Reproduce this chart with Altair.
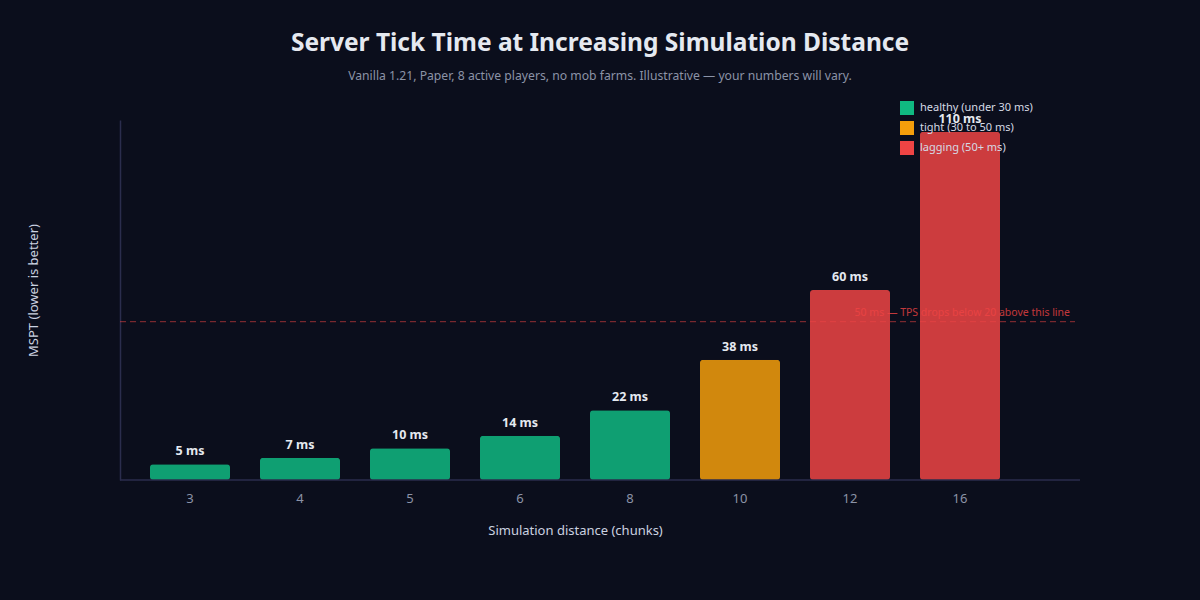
import altair as alt
import pandas as pd

categories = ["3", "4", "5", "6", "8", "10", "12", "16"]
mspt = [5, 7, 10, 14, 22, 38, 60, 110]
status = ["healthy (under 30 ms)"] * 5 + ["tight (30 to 50 ms)"] + ["lagging (50+ ms)"] * 2
status_names = ["healthy (under 30 ms)", "tight (30 to 50 ms)", "lagging (50+ ms)"]
status_colors = ["#10b981", "#f59e0b", "#ef4444"]
threshold = [50]
threshold_label = ["50 ms — TPS drops below 20 above this line"]

df = pd.DataFrame({"dist": categories, "mspt": mspt, "status": status,
                   "label": [f"{v} ms" for v in mspt]})
tdf = pd.DataFrame({"y": threshold, "label": threshold_label})

FONT = "Noto Sans"
BG = "#0b0e1c"
AXIS = "#2b2d4d"

x = alt.X("dist:N", sort=categories, title="Simulation distance (chunks)",
          scale=alt.Scale(range=[0, 910], paddingInner=0.2727, paddingOuter=0.2727),
          axis=alt.Axis(labelAngle=0, domain=False, ticks=False, labelPadding=12,
                        labelColor="#8b93a7", labelFontSize=13, titleColor="#cbd2e0",
                        titleFontSize=13, titleFontWeight="normal", titlePadding=19))
yscale = alt.Scale(domain=[0, 113.7], nice=False, zero=True)
y = alt.Y("mspt:Q", title="MSPT (lower is better)", scale=yscale,
          axis=alt.Axis(labels=False, ticks=False, grid=False, domain=True, domainColor=AXIS,
                        domainWidth=1.5, titleColor="#cbd2e0", titleFontSize=13,
                        titleFontWeight="normal", titlePadding=80, titleY=170))

rule = alt.Chart(tdf).mark_rule(color="#ef4444", strokeDash=[6, 4], opacity=0.6, strokeWidth=1).encode(
    y=alt.Y("y:Q", scale=yscale), x=alt.value(0), x2=alt.value(955))
rule_text = alt.Chart(tdf).mark_text(align="right", baseline="bottom", dy=-4, fontSize=10.5,
                                     color="#ef4444", opacity=0.8, font=FONT).encode(
    y=alt.Y("y:Q", scale=yscale), x=alt.value(950), text="label:N")

bars = alt.Chart(df).mark_bar(cornerRadius=3, opacity=0.85).encode(
    x=x, y=y,
    color=alt.Color("status:N", scale=alt.Scale(domain=status_names, range=status_colors),
                    legend=alt.Legend(title=None, orient="none", legendX=780, legendY=-19,
                                      symbolType="square", symbolSize=196, symbolOpacity=1,
                                      symbolStrokeWidth=0, labelColor="#d5dae4", labelFontSize=11,
                                      rowPadding=6, labelOffset=6)))
labels = alt.Chart(df).mark_text(baseline="bottom", dy=-6, fontSize=12.5, fontWeight="bold",
                                 color="#e5e9f0", font=FONT).encode(
    x=alt.X("dist:N", sort=categories), y=alt.Y("mspt:Q", scale=yscale), text="label:N")

baseline = alt.Chart(tdf).mark_rule(color=AXIS, strokeWidth=1.5).encode(
    x=alt.value(0), x2=alt.value(960), y=alt.value(360))

chart = alt.layer(rule, rule_text, bars, labels, baseline).properties(
    width=960, height=360,
    padding={"left": 120, "top": 120, "right": 120, "bottom": 120},
    autosize=alt.AutoSizeParams(type="none"),
    background=BG,
    view=alt.ViewBackground(stroke="transparent"),
    title=alt.TitleParams(
        "Server Tick Time at Increasing Simulation Distance",
        subtitle="Vanilla 1.21, Paper, 8 active players, no mob farms. Illustrative — your numbers will vary.",
        anchor="middle", fontSize=24.5, fontWeight="bold", color="#e5e9f0", font=FONT,
        subtitleFontSize=12.2, subtitleColor="#8b93a7", subtitleFont=FONT, subtitlePadding=13,
        offset=18),
).configure_view(stroke="transparent").configure(font=FONT)

chart.save("out.html", embed_options={"renderer": "svg", "actions": False})
